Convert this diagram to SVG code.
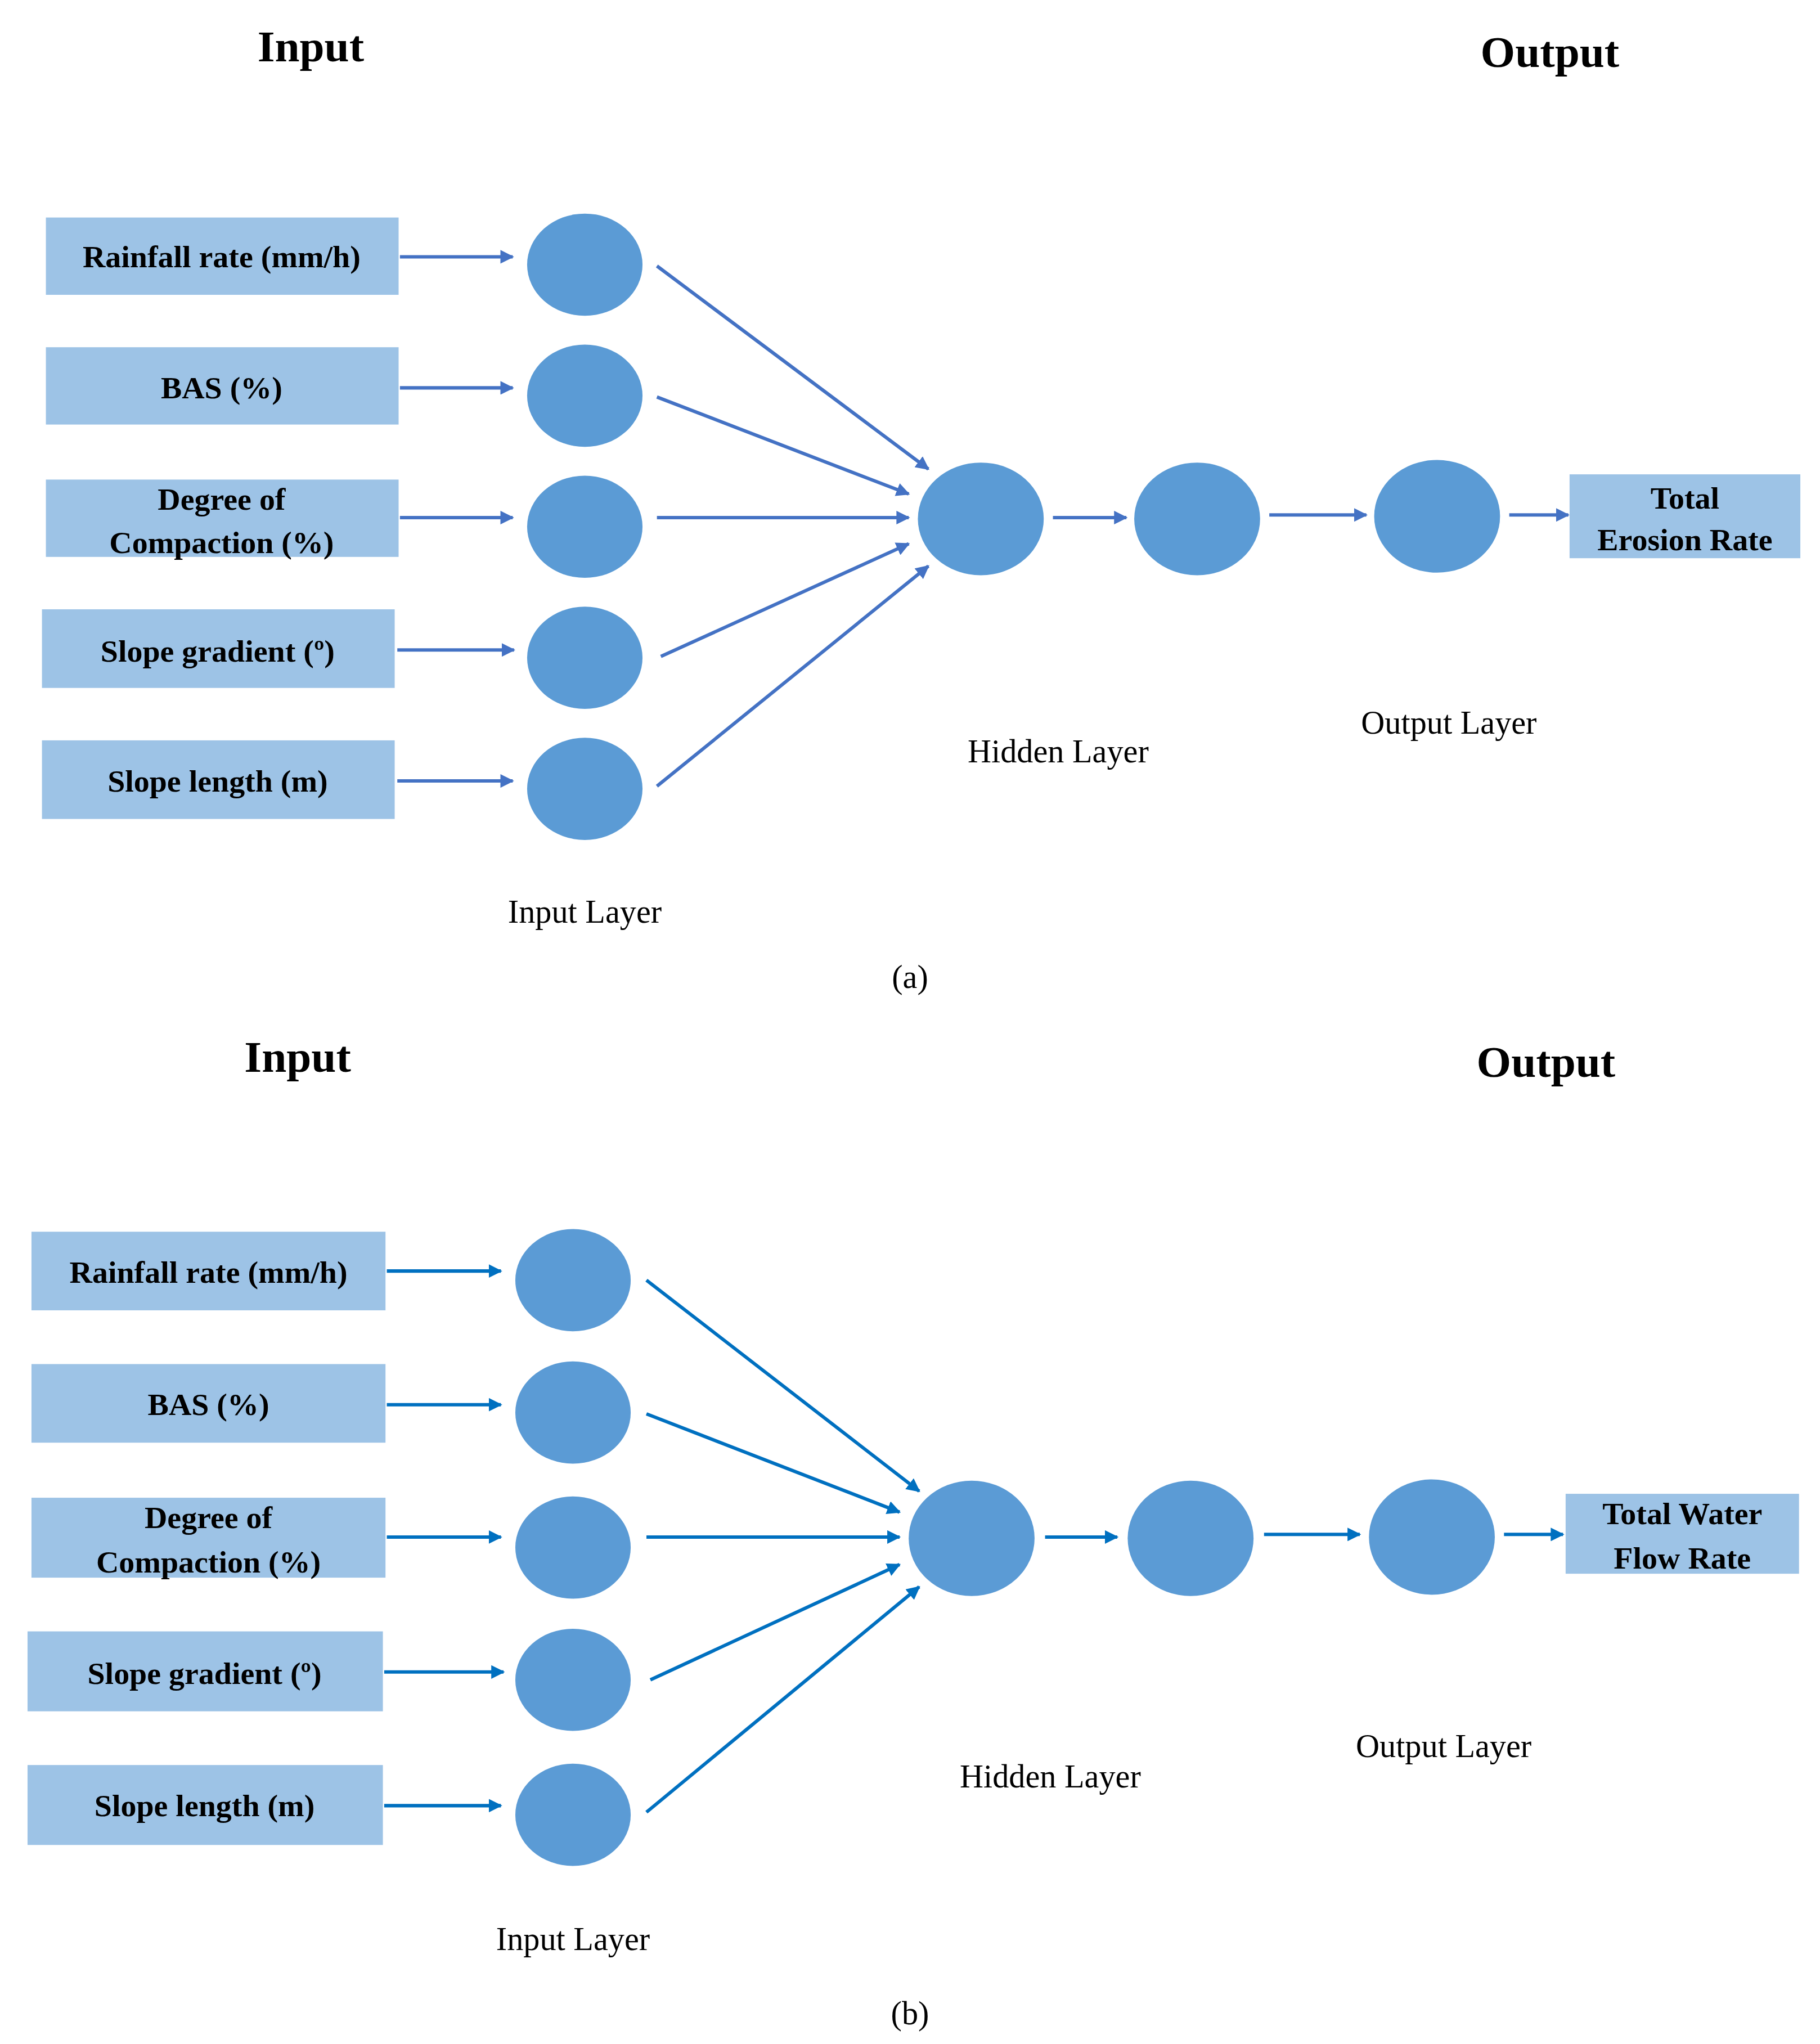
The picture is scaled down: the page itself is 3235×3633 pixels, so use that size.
<svg xmlns="http://www.w3.org/2000/svg" width="3235" height="3633" viewBox="0 0 3235 3633">
<style>
.box{fill:#9DC3E6}
.n{fill:#5B9BD5}
.bt{font-family:"Liberation Serif",serif;font-weight:bold;font-size:24px;text-anchor:middle;fill:#000}
.tt{font-family:"Liberation Serif",serif;font-weight:bold;font-size:34px;text-anchor:middle;fill:#000}
.lb{font-family:"Liberation Serif",serif;font-size:25px;text-anchor:middle;fill:#000}
.ca{stroke:#4472C4;stroke-width:2.6;fill:none;marker-end:url(#ma)}
.cb{stroke:#0070C0;stroke-width:2.6;fill:none;marker-end:url(#mb)}
</style>
<defs>
<marker id="ma" viewBox="0 0 10 10" refX="9" refY="5" markerWidth="4" markerHeight="4" orient="auto"><path d="M0,0L10,5L0,10z" fill="#4472C4"/></marker>
<marker id="mb" viewBox="0 0 10 10" refX="9" refY="5" markerWidth="4" markerHeight="4" orient="auto"><path d="M0,0L10,5L0,10z" fill="#0070C0"/></marker>
</defs>
<rect width="3235" height="3633" fill="#fff"/>
<g transform="scale(2.3307,2.329)">
<!-- Panel a -->
<text class="tt" x="237" y="47">Input</text>
<text class="tt" x="1182" y="51">Output</text>
<g id="a-in1"><rect class="box" x="35" y="166" width="269" height="59"/><text class="bt" x="169" y="204">Rainfall rate (mm/h)</text></g>
<g id="a-in2"><rect class="box" x="35" y="265" width="269" height="59"/><text class="bt" x="169" y="304">BAS (%)</text></g>
<g id="a-in3"><rect class="box" x="35" y="366" width="269" height="59"/><text class="bt" x="169" y="389">Degree of</text><text class="bt" x="169" y="422">Compaction (%)</text></g>
<g id="a-in4"><rect class="box" x="32" y="465" width="269" height="60"/><text class="bt" x="166" y="505">Slope gradient (º)</text></g>
<g id="a-in5"><rect class="box" x="32" y="565" width="269" height="60"/><text class="bt" x="166" y="604">Slope length (m)</text></g>
<g id="a-i1"><ellipse class="n" cx="446" cy="202" rx="44" ry="39"/></g>
<g id="a-i2"><ellipse class="n" cx="446" cy="302" rx="44" ry="39"/></g>
<g id="a-i3"><ellipse class="n" cx="446" cy="402" rx="44" ry="39"/></g>
<g id="a-i4"><ellipse class="n" cx="446" cy="502" rx="44" ry="39"/></g>
<g id="a-i5"><ellipse class="n" cx="446" cy="602" rx="44" ry="39"/></g>
<g id="a-h1"><ellipse class="n" cx="748" cy="396" rx="48" ry="43"/></g>
<g id="a-h2"><ellipse class="n" cx="913" cy="396" rx="48" ry="43"/></g>
<g id="a-o1"><ellipse class="n" cx="1096" cy="394" rx="48" ry="43"/></g>
<g id="a-out"><rect class="box" x="1197" y="362" width="176" height="64"/><text class="bt" x="1285" y="388">Total</text><text class="bt" x="1285" y="420">Erosion Rate</text></g>
<text class="lb" x="807" y="582">Hidden Layer</text>
<text class="lb" x="1105" y="560">Output Layer</text>
<text class="lb" x="446" y="704">Input Layer</text>
<text class="lb" x="694" y="754">(a)</text>
<g id="a-connectors">
<line class="ca" x1="305" y1="196" x2="391" y2="196"/>
<line class="ca" x1="305" y1="296" x2="391" y2="296"/>
<line class="ca" x1="305" y1="395" x2="391" y2="395"/>
<line class="ca" x1="303" y1="496" x2="392" y2="496"/>
<line class="ca" x1="303" y1="596" x2="391" y2="596"/>
<line class="ca" x1="501" y1="203" x2="708" y2="358"/>
<line class="ca" x1="501" y1="303" x2="693" y2="377"/>
<line class="ca" x1="501" y1="395" x2="693" y2="395"/>
<line class="ca" x1="504" y1="501" x2="693" y2="415"/>
<line class="ca" x1="501" y1="600" x2="708" y2="432"/>
<line class="ca" x1="803" y1="395" x2="859" y2="395"/>
<line class="ca" x1="968" y1="393" x2="1042" y2="393"/>
<line class="ca" x1="1151" y1="393" x2="1196" y2="393"/>
</g>
<!-- Panel b -->
<text class="tt" x="227" y="818">Input</text>
<text class="tt" x="1179" y="822">Output</text>
<g id="b-in1"><rect class="box" x="24" y="940" width="270" height="60"/><text class="bt" x="159" y="979">Rainfall rate (mm/h)</text></g>
<g id="b-in2"><rect class="box" x="24" y="1041" width="270" height="60"/><text class="bt" x="159" y="1080">BAS (%)</text></g>
<g id="b-in3"><rect class="box" x="24" y="1143" width="270" height="61"/><text class="bt" x="159" y="1166">Degree of</text><text class="bt" x="159" y="1200">Compaction (%)</text></g>
<g id="b-in4"><rect class="box" x="21" y="1245" width="271" height="61"/><text class="bt" x="156" y="1285">Slope gradient (º)</text></g>
<g id="b-in5"><rect class="box" x="21" y="1347" width="271" height="61"/><text class="bt" x="156" y="1386">Slope length (m)</text></g>
<g id="b-i1"><ellipse class="n" cx="437" cy="977" rx="44" ry="39"/></g>
<g id="b-i2"><ellipse class="n" cx="437" cy="1078" rx="44" ry="39"/></g>
<g id="b-i3"><ellipse class="n" cx="437" cy="1181" rx="44" ry="39"/></g>
<g id="b-i4"><ellipse class="n" cx="437" cy="1282" rx="44" ry="39"/></g>
<g id="b-i5"><ellipse class="n" cx="437" cy="1385" rx="44" ry="39"/></g>
<g id="b-h1"><ellipse class="n" cx="741" cy="1174" rx="48" ry="44"/></g>
<g id="b-h2"><ellipse class="n" cx="908" cy="1174" rx="48" ry="44"/></g>
<g id="b-o1"><ellipse class="n" cx="1092" cy="1173" rx="48" ry="44"/></g>
<g id="b-out"><rect class="box" x="1194" y="1140" width="178" height="61"/><text class="bt" x="1283" y="1163">Total Water</text><text class="bt" x="1283" y="1197">Flow Rate</text></g>
<text class="lb" x="801" y="1364">Hidden Layer</text>
<text class="lb" x="1101" y="1341">Output Layer</text>
<text class="lb" x="437" y="1488">Input Layer</text>
<text class="lb" x="694" y="1545">(b)</text>
<g id="b-connectors">
<line class="cb" x1="295" y1="970" x2="382" y2="970"/>
<line class="cb" x1="295" y1="1072" x2="382" y2="1072"/>
<line class="cb" x1="295" y1="1173" x2="382" y2="1173"/>
<line class="cb" x1="293" y1="1276" x2="384" y2="1276"/>
<line class="cb" x1="293" y1="1378" x2="382" y2="1378"/>
<line class="cb" x1="493" y1="977" x2="701" y2="1138"/>
<line class="cb" x1="493" y1="1079" x2="686" y2="1154"/>
<line class="cb" x1="493" y1="1173" x2="686" y2="1173"/>
<line class="cb" x1="496" y1="1282" x2="686" y2="1194"/>
<line class="cb" x1="493" y1="1383" x2="701" y2="1211"/>
<line class="cb" x1="797" y1="1173" x2="852" y2="1173"/>
<line class="cb" x1="964" y1="1171" x2="1037" y2="1171"/>
<line class="cb" x1="1147" y1="1171" x2="1192" y2="1171"/>
</g>
</g>
</svg>
